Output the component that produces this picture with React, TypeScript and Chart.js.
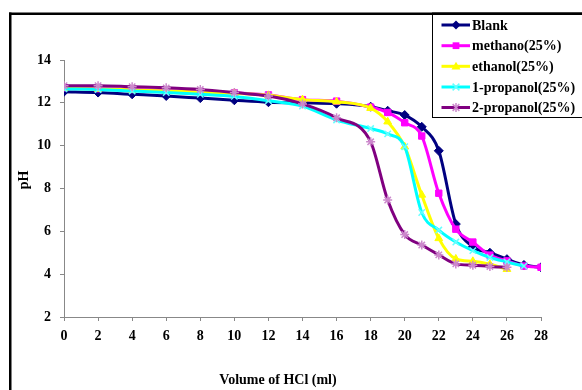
import React, { useEffect, useRef } from "react";
import { Chart, registerables } from "chart.js";

Chart.register(...registerables);

const FONT = '"Liberation Serif", "Times New Roman", serif';

const seriesNames = ["Blank", "methano(25%)", "ethanol(25%)", "1-propanol(25%)", "2-propanol(25%)"];

const blankX = [0, 2, 4, 6, 8, 10, 12, 14, 16, 18, 19, 20, 21, 22, 23, 24, 25, 26, 27, 28];
const blankY = [12.52, 12.48, 12.4, 12.32, 12.22, 12.12, 12.03, 12.0, 11.96, 11.82, 11.63, 11.43, 10.88, 9.76, 6.34, 5.28, 5.0, 4.7, 4.43, 4.32];

const methX = [0, 2, 4, 6, 8, 10, 12, 14, 16, 18, 19, 20, 21, 22, 23, 24, 25, 26, 27, 28];
const methY = [12.7, 12.66, 12.62, 12.57, 12.52, 12.47, 12.37, 12.15, 12.08, 11.8, 11.55, 11.07, 10.45, 7.78, 6.1, 5.5, 4.89, 4.62, 4.38, 4.32];

const ethX = [0, 2, 4, 6, 8, 10, 12, 14, 16, 18, 19, 20, 21, 22, 23, 24, 25, 26];
const ethY = [12.68, 12.65, 12.6, 12.55, 12.5, 12.45, 12.35, 12.15, 12.05, 11.75, 11.12, 9.95, 7.7, 5.67, 4.71, 4.6, 4.46, 4.23];

const propX = [0, 2, 4, 6, 8, 10, 12, 14, 16, 18, 19, 20, 21, 22, 23, 24, 25, 26, 27];
const propY = [12.65, 12.62, 12.55, 12.48, 12.4, 12.3, 12.1, 11.85, 11.2, 10.8, 10.55, 9.95, 6.88, 6.06, 5.5, 5.1, 4.78, 4.57, 4.38];

const iproX = [0, 2, 4, 6, 8, 10, 12, 14, 16, 18, 19, 20, 21, 22, 23, 24, 25, 26];
const iproY = [12.8, 12.8, 12.75, 12.7, 12.62, 12.48, 12.32, 11.95, 11.3, 10.18, 7.46, 5.85, 5.36, 4.9, 4.48, 4.42, 4.36, 4.32];

const xTicksMin = 0;
const xTicksMax = 28;
const yTicksMin = 2;
const yTicksMax = 14;

const lineColors = ["#000080", "#FF00FF", "#FFFF00", "#00FFFF", "#800080"];
const markerFill = ["#000080", "#FF00FF", "#FFFF00", "#66FFFF", "#CC88CC"];
const markerStyles = ["rectRot", "rect", "triangle", "crossRot", "star"];

const toPts = (xs: number[], ys: number[]) => xs.map((x, i) => ({ x, y: ys[i] }));

function drawMarker(ctx: CanvasRenderingContext2D, style: string, x: number, y: number, r: number, color: string) {
  ctx.save();
  ctx.fillStyle = color;
  ctx.strokeStyle = color;
  ctx.lineWidth = 1.5;
  ctx.beginPath();
  if (style === "rectRot") {
    ctx.moveTo(x, y - r);
    ctx.lineTo(x + r, y);
    ctx.lineTo(x, y + r);
    ctx.lineTo(x - r, y);
    ctx.closePath();
    ctx.fill();
  } else if (style === "rect") {
    ctx.rect(x - r * 0.75, y - r * 0.75, r * 1.5, r * 1.5);
    ctx.fill();
  } else if (style === "triangle") {
    ctx.moveTo(x, y - r);
    ctx.lineTo(x + r, y + r * 0.7);
    ctx.lineTo(x - r, y + r * 0.7);
    ctx.closePath();
    ctx.fill();
  } else if (style === "crossRot") {
    const d = r * 0.75;
    ctx.moveTo(x - d, y - d);
    ctx.lineTo(x + d, y + d);
    ctx.moveTo(x + d, y - d);
    ctx.lineTo(x - d, y + d);
    ctx.stroke();
  } else {
    const d = r * 0.75;
    ctx.moveTo(x - d, y - d);
    ctx.lineTo(x + d, y + d);
    ctx.moveTo(x + d, y - d);
    ctx.lineTo(x - d, y + d);
    ctx.moveTo(x, y - r);
    ctx.lineTo(x, y + r);
    ctx.stroke();
  }
  ctx.restore();
}

const framePlugin = {
  id: "framePlugin",
  beforeDraw(chart: any) {
    const ctx = chart.ctx as CanvasRenderingContext2D;
    ctx.save();
    ctx.fillStyle = "#ffffff";
    ctx.fillRect(0, 0, chart.width, chart.height);
    ctx.fillStyle = "#000000";
    ctx.fillRect(9, 12.5, 2.5, chart.height);
    ctx.fillRect(9, 12.5, chart.width, 2.5);
    ctx.restore();
  },
  afterDraw(chart: any) {
    const ctx = chart.ctx as CanvasRenderingContext2D;
    ctx.save();
    ctx.fillStyle = "#000000";
    ctx.font = `bold 14px ${FONT}`;
    ctx.textAlign = "center";
    ctx.textBaseline = "middle";
    ctx.fillText("Volume of HCl (ml)", 278, 380);
    ctx.save();
    ctx.translate(24, 180);
    ctx.rotate(-Math.PI / 2);
    ctx.fillText("pH", 0, 0);
    ctx.restore();

    // legend box (right side runs off the picture)
    const bx = 432, by = 14, bw = 220, bh = 103;
    ctx.fillStyle = "#ffffff";
    ctx.fillRect(bx, by, bw, bh);
    ctx.strokeStyle = "#000000";
    ctx.lineWidth = 1;
    ctx.strokeRect(bx + 0.5, by + 0.5, bw, bh);
    ctx.fillStyle = "#000000";
    ctx.fillRect(bx, 12.5, chart.width - bx, 2.5);
    const rows = [25, 45.7, 66.3, 87, 107.5];
    seriesNames.forEach((name, i) => {
      const y = rows[i];
      ctx.strokeStyle = lineColors[i];
      ctx.lineWidth = 3;
      ctx.beginPath();
      ctx.moveTo(441.5, y);
      ctx.lineTo(470, y);
      ctx.stroke();
      drawMarker(ctx, markerStyles[i], 456, y, 4.5, markerFill[i]);
      ctx.fillStyle = "#000000";
      ctx.font = `bold 14px ${FONT}`;
      ctx.textAlign = "left";
      ctx.textBaseline = "middle";
      ctx.fillText(name, 472, y + 1);
    });
    ctx.restore();
  },
};

export default function App() {
  const ref = useRef<HTMLCanvasElement | null>(null);

  useEffect(() => {
    if (!ref.current) return;
    const all = [
      toPts(blankX, blankY),
      toPts(methX, methY),
      toPts(ethX, ethY),
      toPts(propX, propY),
      toPts(iproX, iproY),
    ];
    const datasets = all.map((data, i) => ({
      label: seriesNames[i],
      data,
      order: 4 - i,
      borderColor: lineColors[i],
      backgroundColor: markerFill[i],
      borderWidth: 3,
      pointStyle: markerStyles[i] as any,
      pointRadius: 4.5,
      pointBorderColor: markerFill[i],
      pointBackgroundColor: markerFill[i],
      pointBorderWidth: i >= 3 ? 1.5 : 1,
      cubicInterpolationMode: "monotone" as const,
      fill: false,
    }));
    const chart = new Chart(ref.current, {
      type: "line",
      data: { datasets },
      plugins: [framePlugin],
      options: {
        responsive: false,
        animation: false,
        devicePixelRatio: 1,
        layout: { padding: { left: 0, right: 41, top: 60, bottom: 0 } },
        plugins: {
          legend: { display: false },
          tooltip: { enabled: false },
          title: { display: false },
        },
        scales: {
          x: {
            type: "linear",
            min: xTicksMin,
            max: xTicksMax,
            afterFit: (s: any) => {
              s.height = 73;
            },
            grid: {
              display: true,
              drawOnChartArea: false,
              drawTicks: true,
              tickLength: 4,
              color: "#888888",
            },
            border: { display: true, color: "#888888", width: 1 },
            ticks: {
              stepSize: 2,
              padding: 7,
              color: "#000000",
              maxRotation: 0,
              font: { family: FONT, size: 14, weight: "bold" },
            },
          },
          y: {
            type: "linear",
            min: yTicksMin,
            max: yTicksMax,
            afterFit: (s: any) => {
              s.width = 64;
            },
            grid: {
              display: true,
              drawOnChartArea: false,
              drawTicks: true,
              tickLength: 4,
              color: "#888888",
            },
            border: { display: true, color: "#888888", width: 1 },
            ticks: {
              stepSize: 2,
              padding: 9,
              color: "#000000",
              font: { family: FONT, size: 14, weight: "bold" },
            },
          },
        },
      },
    });
    return () => chart.destroy();
  }, []);

  return (
    <div style={{ position: "fixed", left: 0, top: 0, width: 582, height: 390, background: "#fff" }}>
      <canvas ref={ref} width={582} height={390} style={{ width: 582, height: 390, display: "block" }} />
    </div>
  );
}
